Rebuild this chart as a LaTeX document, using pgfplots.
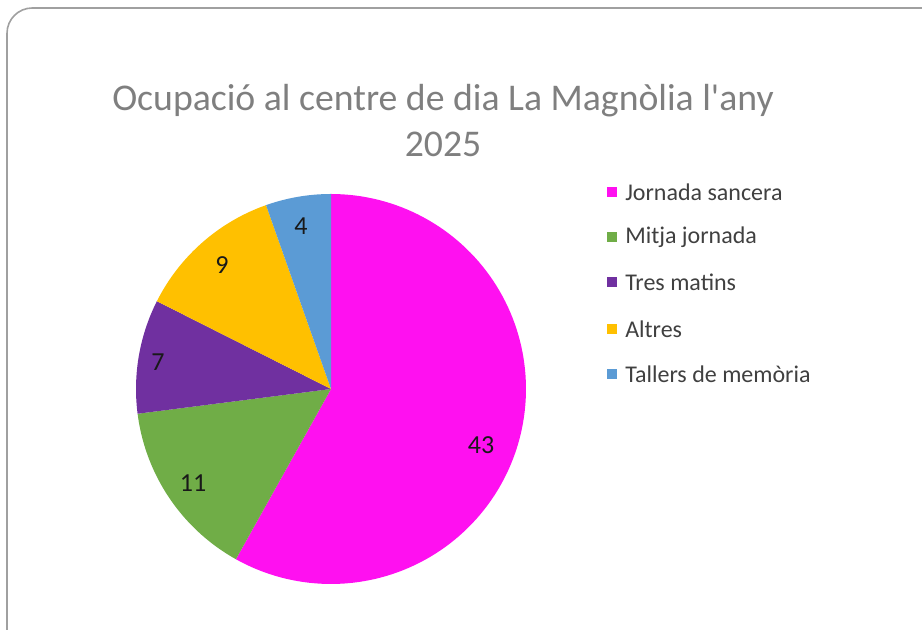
\documentclass[border=0pt]{standalone}
\usepackage{pgfplots}
\pgfplotsset{compat=1.18}
\usepackage{pgfplotstable}
\usepackage{fontspec}
\setmainfont{Carlito}

\definecolor{cJ}{HTML}{FF10F0}
\definecolor{cM}{HTML}{70AD47}
\definecolor{cT}{HTML}{7030A0}
\definecolor{cA}{HTML}{FFC000}
\definecolor{cL}{HTML}{5B9BD5}
\definecolor{titlegray}{HTML}{7F7F7F}
\definecolor{legtext}{HTML}{404040}
\definecolor{framegray}{HTML}{A0A0A0}

\pgfplotstableread[col sep=comma]{
name,value
Jornada sancera,43
Mitja jornada,11
Tres matins,7
Altres,9
Tallers de memòria,4
}\piedata

\begin{document}
\begin{tikzpicture}
\pgfplotstablegetelem{0}{value}\of\piedata \edef\vA{\pgfplotsretval}
\pgfplotstablegetelem{1}{value}\of\piedata \edef\vB{\pgfplotsretval}
\pgfplotstablegetelem{2}{value}\of\piedata \edef\vC{\pgfplotsretval}
\pgfplotstablegetelem{3}{value}\of\piedata \edef\vD{\pgfplotsretval}
\pgfplotstablegetelem{4}{value}\of\piedata \edef\vE{\pgfplotsretval}
\pgfmathsetmacro\total{\vA+\vB+\vC+\vD+\vE}
\pgfmathsetmacro\bA{90}
\pgfmathsetmacro\bB{\bA-360*\vA/\total}
\pgfmathsetmacro\bC{\bB-360*\vB/\total}
\pgfmathsetmacro\bD{\bC-360*\vC/\total}
\pgfmathsetmacro\bE{\bD-360*\vD/\total}
\pgfmathsetmacro\bF{\bE-360*\vE/\total}
\def\cx{331}\def\cy{241}\def\rr{195}
\begin{axis}[
  scale only axis, width=691.5pt, height=472.5pt,
  xmin=0, xmax=922, ymin=0, ymax=630,
  hide axis, clip=true,
]
\draw[framegray, line width=1.2pt, rounded corners=19pt] (7,622) rectangle (990,-40);
\addplot[fill=cJ, draw=none, domain=\bB:\bA, samples=120] ({\cx+\rr*cos(x)},{\cy+\rr*sin(x)}) -- (\cx,\cy) -- cycle;
\addplot[fill=cM, draw=none, domain=\bC:\bB, samples=40] ({\cx+\rr*cos(x)},{\cy+\rr*sin(x)}) -- (\cx,\cy) -- cycle;
\addplot[fill=cT, draw=none, domain=\bD:\bC, samples=30] ({\cx+\rr*cos(x)},{\cy+\rr*sin(x)}) -- (\cx,\cy) -- cycle;
\addplot[fill=cA, draw=none, domain=\bE:\bD, samples=30] ({\cx+\rr*cos(x)},{\cy+\rr*sin(x)}) -- (\cx,\cy) -- cycle;
\addplot[fill=cL, draw=none, domain=\bF:\bE, samples=20] ({\cx+\rr*cos(x)},{\cy+\rr*sin(x)}) -- (\cx,\cy) -- cycle;
% title
\node[titlegray, font=\fontsize{28.3}{32}\selectfont] at (443,529) {Ocupació al centre de dia La Magnòlia l\textquotesingle any};
\node[titlegray, font=\fontsize{28.3}{32}\selectfont] at (443,486) {2025};
% data labels
\begin{scope}[every node/.style={font=\fontsize{19.5}{22}\selectfont, text=black!90}]
\node at (481,185) {\vA};
\node at (193,147) {\vB};
\node at (158,268) {\vC};
\node at (222,365) {\vD};
\node at (301,404) {\vE};
\end{scope}
% legend
\begin{scope}[every node/.style={font=\fontsize{18}{21}\selectfont, text=legtext, anchor=west, inner sep=0pt}]
\fill[cJ] (607,433) rectangle (617,443);
\node at (625,438) {Jornada sancera};
\fill[cM] (607,387.5) rectangle (617,397.5);
\node at (625,392.5) {Mitja jornada};
\fill[cT] (607,342.5) rectangle (617,352.5);
\node at (625,347.5) {Tres matins};
\fill[cA] (607,296) rectangle (617,306);
\node at (625,301) {Altres};
\fill[cL] (607,251) rectangle (617,261);
\node at (625,256) {Tallers de memòria};
\end{scope}
\end{axis}
\pgfresetboundingbox
\useasboundingbox (current axis.south west) rectangle (current axis.north east);
\end{tikzpicture}
\end{document}
